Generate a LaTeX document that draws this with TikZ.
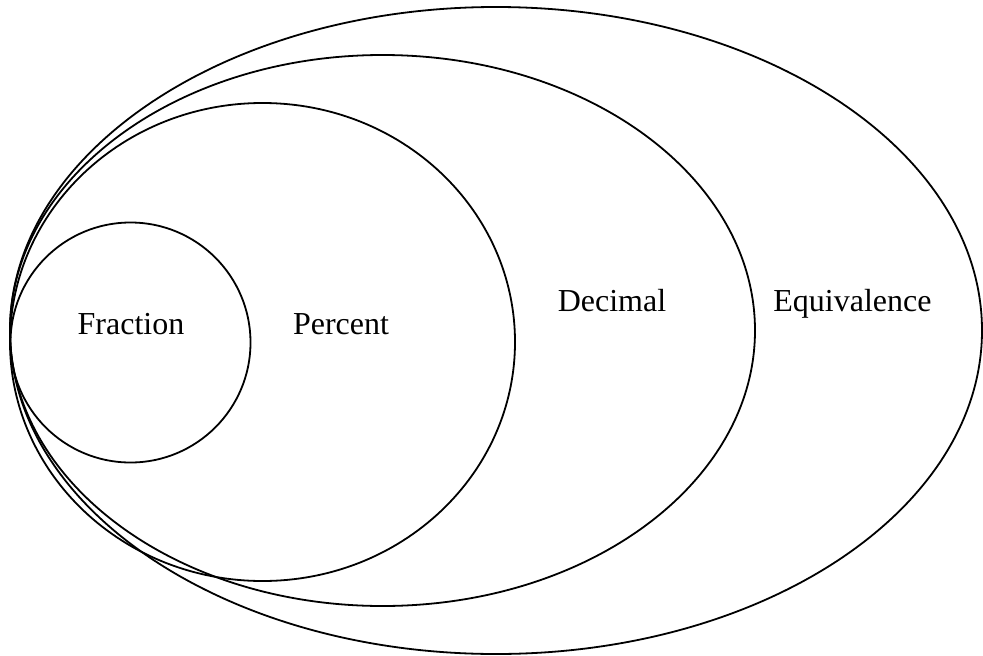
\documentclass[tikz,border=0pt]{standalone}
\usepackage{fontspec}
\setmainfont{Liberation Serif}
\usetikzlibrary{arrows.meta}
\tikzset{set/.style={line width=1.8pt},
lbl/.style={anchor=base,font=\fontsize{32}{38}\selectfont}}
\begin{document}
\begin{tikzpicture}[x=1pt,y=-1pt]
\useasboundingbox (0,0) rectangle (983,656);
\draw[set](496,330.5) ellipse [x radius=486pt,y radius=323.5pt];
\draw[set](382.5,330.5) ellipse [x radius=372.5pt,y radius=275.5pt];
\draw[set](262.5,342) ellipse [x radius=252.5pt,y radius=239pt];
\draw[set](130.5,342.5) circle [radius=120pt];
\node[lbl](frac) at (131,334) {Fraction};
\node[lbl](perc) at (341,334) {Percent};
\node[lbl](dec) at (612,311) {Decimal};
\node[lbl](equiv) at (852.5,311) {Equivalence};
\end{tikzpicture}
\end{document}
